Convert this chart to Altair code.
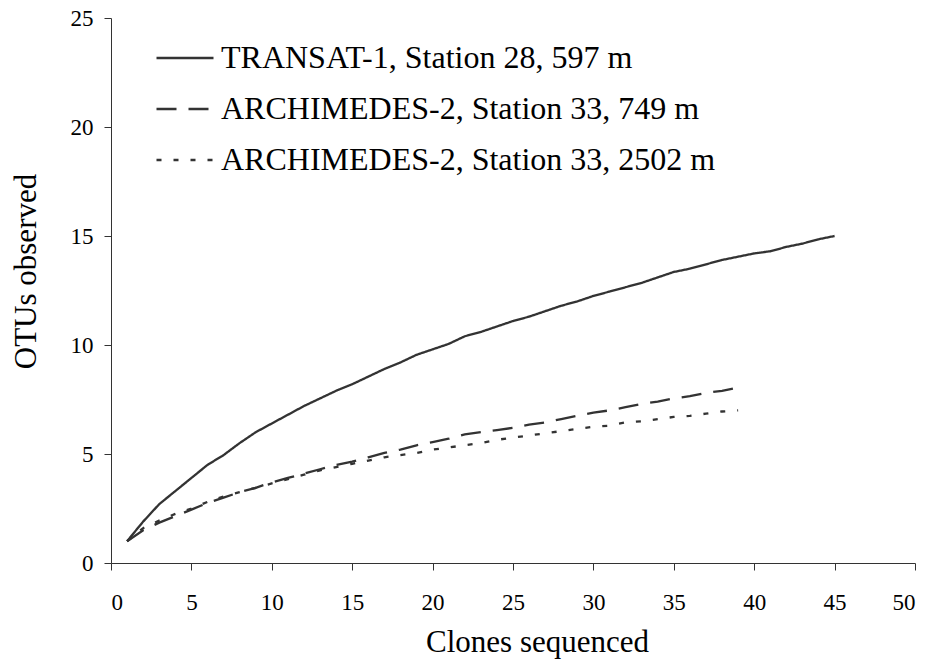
import altair as alt
import pandas as pd

series_names = [
    "TRANSAT-1, Station 28, 597 m",
    "ARCHIMEDES-2, Station 33, 749 m",
    "ARCHIMEDES-2, Station 33, 2502 m",
]

clones_transat = list(range(1, 46))
otus_transat = [
    1.0, 1.9, 2.7, 3.3, 3.9, 4.5, 4.95, 5.5, 6.0, 6.4,
    6.8, 7.2, 7.55, 7.9, 8.2, 8.55, 8.9, 9.2, 9.55, 9.8,
    10.05, 10.4, 10.6, 10.85, 11.1, 11.3, 11.55, 11.8, 12.0, 12.25,
    12.45, 12.65, 12.85, 13.1, 13.35, 13.5, 13.7, 13.9, 14.05, 14.2,
    14.3, 14.5, 14.65, 14.85, 15.0,
]

clones_arch749 = list(range(1, 40))
otus_arch749 = [
    1.0, 1.5, 1.85, 2.15, 2.45, 2.75, 3.0, 3.25, 3.45, 3.7,
    3.9, 4.1, 4.3, 4.5, 4.65, 4.85, 5.05, 5.2, 5.4, 5.55,
    5.7, 5.9, 6.0, 6.1, 6.2, 6.35, 6.45, 6.6, 6.75, 6.9,
    7.0, 7.15, 7.3, 7.4, 7.55, 7.65, 7.8, 7.9, 8.05,
]

clones_arch2502 = list(range(1, 40))
otus_arch2502 = [
    1.0, 1.6, 1.95, 2.25, 2.5, 2.8, 3.05, 3.25, 3.45, 3.65,
    3.85, 4.05, 4.25, 4.4, 4.55, 4.7, 4.85, 4.95, 5.05, 5.2,
    5.3, 5.4, 5.5, 5.65, 5.75, 5.85, 5.95, 6.05, 6.15, 6.25,
    6.3, 6.45, 6.5, 6.6, 6.7, 6.75, 6.85, 6.95, 7.0,
]

x_ticks = list(range(0, 51, 5))
y_ticks = list(range(0, 26, 5))

rows = []
for name, xs, ys in [
    (series_names[0], clones_transat, otus_transat),
    (series_names[1], clones_arch749, otus_arch749),
    (series_names[2], clones_arch2502, otus_arch2502),
]:
    for xv, yv in zip(xs, ys):
        rows.append({"series": name, "clones": xv, "otus": yv})
df = pd.DataFrame(rows)

FONT = "Liberation Serif"

chart = (
    alt.Chart(df)
    .mark_line(color="#333333", strokeWidth=2.3)
    .encode(
        x=alt.X(
            "clones:Q",
            scale=alt.Scale(domain=[0, 50], nice=False),
            axis=alt.Axis(
                values=x_ticks,
                title="Clones sequenced",
                labelPadding=21,
                titleX=426,
                titleY=88,
                titleBaseline="alphabetic",
                titleAlign="center",
            ),
        ),
        y=alt.Y(
            "otus:Q",
            scale=alt.Scale(domain=[0, 25], nice=False),
            axis=alt.Axis(
                values=y_ticks,
                title="OTUs observed",
                labelPadding=11,
                titleX=-76,
                titleY=253,
                titleBaseline="alphabetic",
                titleAlign="center",
            ),
        ),
        strokeDash=alt.StrokeDash(
            "series:N",
            scale=alt.Scale(domain=series_names, range=[[1, 0], [20, 12], [5, 12]]),
            legend=alt.Legend(
                title=None,
                orient="none",
                legendX=44,
                legendY=10,
                padding=0,
                labelFont=FONT,
                labelFontSize=32,
                labelColor="black",
                labelOffset=6,
                labelLimit=0,
                symbolType="stroke",
                symbolSize=3249,
                symbolStrokeWidth=2.3,
                symbolStrokeColor="#333333",
                rowPadding=5,
            ),
        ),
    )
    .properties(
        width=804,
        height=545,
        autosize=alt.AutoSizeParams(type="none"),
        padding={"left": 103, "top": 10, "right": 11, "bottom": 96},
    )
    .configure(font=FONT)
    .configure_view(stroke=None)
    .configure_axis(
        grid=False,
        domainColor="#333333",
        tickColor="#333333",
        tickSize=7,
        labelFont=FONT,
        labelFontSize=23,
        labelColor="black",
        titleFont=FONT,
        titleFontSize=31,
        titleFontWeight="normal",
        titleColor="black",
    )
)

chart.save("out.html", embed_options={"renderer": "svg", "actions": False})
